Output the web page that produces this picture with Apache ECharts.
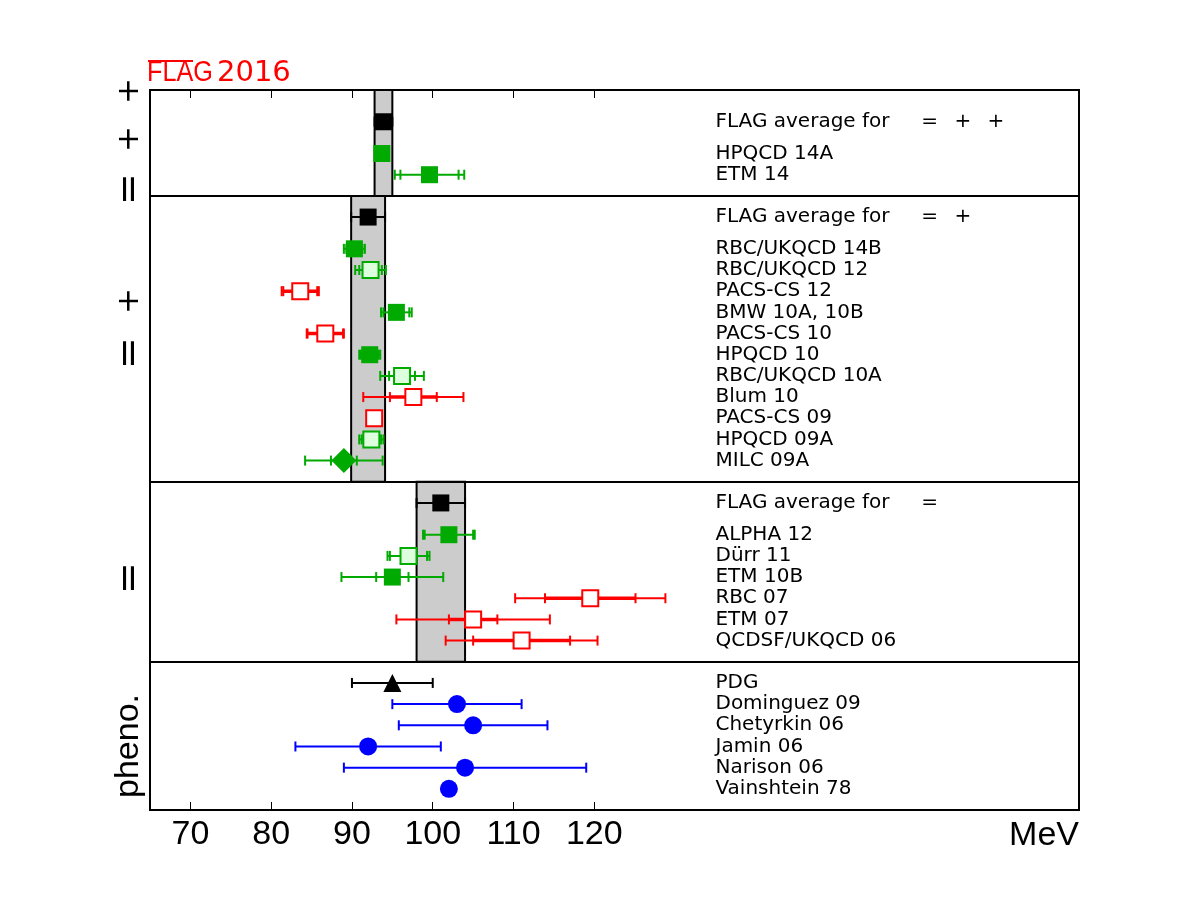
<!DOCTYPE html>
<html>
<head>
<meta charset="utf-8">
<script src="https://cdn.jsdelivr.net/npm/echarts@6/dist/echarts.min.js"></script>
<style>
  html, body { margin: 0; background: #fff; }
  #chart { width: 1200px; height: 900px; }
</style>
</head>
<body>
<div id="chart"></div>
<script>
// rows from top to bottom
const names = [
  'FLAG average for     = \u2002+ \u2002+', 'HPQCD 14A', 'ETM 14',
  'FLAG average for     = \u2002+', 'RBC/UKQCD 14B', 'RBC/UKQCD 12', 'PACS-CS 12', 'BMW 10A, 10B',
  'PACS-CS 10', 'HPQCD 10', 'RBC/UKQCD 10A', 'Blum 10', 'PACS-CS 09', 'HPQCD 09A', 'MILC 09A',
  'FLAG average for     =', 'ALPHA 12', 'Dürr 11', 'ETM 10B', 'RBC 07', 'ETM 07', 'QCDSF/UKQCD 06',
  'PDG', 'Dominguez 09', 'Chetyrkin 06', 'Jamin 06', 'Narison 06', 'Vainshtein 78'
]
const rows = [32.5, 31, 30, 28, 26.5, 25.5, 24.5, 23.5, 22.5, 21.5, 20.5, 19.5, 18.5, 17.5, 16.5,
  14.5, 13, 12, 11, 10, 9, 8, 6, 5, 4, 3, 2, 1]
const values = [93.9, 93.7, 99.6, 92.0, 90.3, 92.3, 83.6, 95.5, 86.7, 92.2, 96.2, 97.6, 92.75, 92.4, 89.0,
  101, 102, 97.0, 95, 119.5, 105, 111, 95, 103, 105, 92, 104, 102]
const statErr = [0, 0, 3.6, 0, 1.0, 1.4, 2.1, 1.6, 2.2, 1.1, 1.6, 2.9, 0, 1.2, 1.6,
  0, 3.0, 2.3, 2.0, 5.6, 3.0, 6.0, 0, 0, 0, 0, 0, 0]
const totErr = [1.1, 0.8, 4.3, 2.1, 1.3, 1.9, 2.3, 1.9, 2.3, 1.3, 2.7, 6.2, 0.58, 1.5, 4.8,
  3.0, 3.2, 2.6, 6.3, 9.3, 9.5, 9.4, 5, 8, 9.2, 9, 15, 0]
const rating = ['avg', 'pass', 'pass', 'avg', 'pass', 'light', 'fail', 'pass', 'fail', 'pass', 'light',
  'fail', 'fail', 'light', 'alt', 'avg', 'pass', 'light', 'pass', 'fail', 'fail', 'fail',
  'pdg', 'pheno', 'pheno', 'pheno', 'pheno', 'pheno']

// FLAG average bands per panel
const bandCenter = [93.9, 92.0, 101]
const bandErr = [1.1, 2.1, 3.0]
const bandBottom = [29, 15.5, 7]
const bandTop = [34, 29, 15.5]
const panelBreaks = [7, 15.5, 29]
const xTicks = [70, 80, 90, 100, 110, 120]

const GREEN = '#00aa00'
const barColor = { avg: '#000', pass: GREEN, light: GREEN, alt: GREEN, fail: '#ff0000', pdg: '#000', pheno: '#0000ff' }
const markerStyle = {
  avg: { symbol: 'rect', symbolSize: 17, itemStyle: { color: '#000' } },
  pass: { symbol: 'rect', symbolSize: 17, itemStyle: { color: GREEN } },
  light: { symbol: 'rect', symbolSize: 16, itemStyle: { color: '#ddffdd', borderColor: GREEN, borderWidth: 2 } },
  alt: { symbol: 'diamond', symbolSize: 25, itemStyle: { color: GREEN } },
  fail: { symbol: 'rect', symbolSize: 16, itemStyle: { color: '#fff', borderColor: '#ff0000', borderWidth: 2 } },
  pdg: { symbol: 'triangle', symbolSize: 18, itemStyle: { color: '#000' } },
  pheno: { symbol: 'circle', symbolSize: 18, itemStyle: { color: '#0000ff' } }
}

const LABEL_X = 135

const chart = echarts.init(document.getElementById('chart'))

const errorData = names.map((n, i) => ({
  value: [values[i], rows[i], statErr[i], totErr[i]],
  color: barColor[rating[i]],
  thick: rating[i] === 'fail'
}))

const bandSeries = {
  type: 'custom',
  z: 1,
  silent: true,
  data: bandCenter.map((c, i) => [c, bandErr[i], bandBottom[i], bandTop[i]]),
  renderItem: (params, api) => {
    const c = api.value(0), e = api.value(1)
    const p0 = api.coord([c - e, api.value(3)])
    const p1 = api.coord([c + e, api.value(2)])
    return {
      type: 'rect',
      shape: { x: p0[0], y: p0[1], width: p1[0] - p0[0], height: p1[1] - p0[1] },
      style: { fill: '#cccccc', stroke: '#000', lineWidth: 2 }
    }
  },
  markLine: {
    silent: true,
    symbol: 'none',
    label: { show: false },
    lineStyle: { color: '#000', width: 2, type: 'solid' },
    data: panelBreaks.map(y => ({ yAxis: y }))
  }
}

const errorSeries = {
  type: 'custom',
  z: 2,
  silent: true,
  data: errorData.map(d => d.value),
  renderItem: (params, api) => {
    const d = errorData[params.dataIndex]
    const [v, y, st, tot] = d.value
    if (!tot) return { type: 'group', children: [] }
    const lw = 2
    const [x0, yc] = api.coord([v - tot, y])
    const x1 = api.coord([v + tot, y])[0]
    const h = 5
    const line = (a, b, c, e, w) => ({
      type: 'line', shape: { x1: a, y1: b, x2: c, y2: e },
      style: { stroke: d.color, lineWidth: w || lw }
    })
    const children = [line(x0, yc, x1, yc), line(x0, yc - h, x0, yc + h), line(x1, yc - h, x1, yc + h)]
    if (st) {
      const s0 = api.coord([v - st, y])[0]
      const s1 = api.coord([v + st, y])[0]
      children.push(line(s0, yc - h, s0, yc + h), line(s1, yc - h, s1, yc + h))
      if (d.thick) children.push(line(s0, yc, s1, yc, 3.5))
    }
    return { type: 'group', children }
  }
}

const markerSeries = Object.keys(markerStyle).map(key => ({
  type: 'scatter',
  z: 3,
  silent: true,
  symbol: markerStyle[key].symbol,
  symbolSize: markerStyle[key].symbolSize,
  itemStyle: Object.assign({ opacity: 1 }, markerStyle[key].itemStyle),
  data: names.map((n, i) => i).filter(i => rating[i] === key).map(i => [values[i], rows[i]])
}))

const labelSeries = {
  type: 'custom',
  z: 4,
  silent: true,
  data: names.map((n, i) => [LABEL_X, rows[i]]),
  renderItem: (params, api) => {
    const p = api.coord([api.value(0), api.value(1)])
    return {
      type: 'text',
      x: p[0], y: p[1],
      style: {
        text: names[params.dataIndex],
        fill: '#000',
        font: '20px "DejaVu Sans"',
        align: 'left',
        verticalAlign: 'middle'
      }
    }
  }
}

const axisBase = {
  type: 'value',
  min: 65,
  max: 180,
  axisLine: { show: false },
  splitLine: { show: false },
  axisTick: { show: true, inside: true, length: 8, customValues: xTicks, lineStyle: { color: '#000', width: 1 } }
}

// side labels whose symbols survived in the original (N_f text lost)
const sideMarks = [
  { t: '+', y: 91 }, { t: '+', y: 139 }, { t: '=', y: 189 },
  { t: '+', y: 301 }, { t: '=', y: 353 }, { t: '=', y: 578 }
]

const option = {
  animation: false,
  backgroundColor: '#fff',
  grid: { left: 150, right: 121, top: 90, bottom: 90, show: true, borderColor: '#000', borderWidth: 2, backgroundColor: 'transparent' },
  xAxis: [
    Object.assign({}, axisBase, {
      position: 'bottom',
      axisLabel: { customValues: xTicks, color: '#000', fontSize: 34, fontFamily: 'Liberation Sans', margin: 8 }
    }),
    Object.assign({}, axisBase, { position: 'top', axisLabel: { show: false } })
  ],
  yAxis: { type: 'value', min: 0, max: 34, show: false },
  series: [bandSeries, errorSeries, ...markerSeries, labelSeries],
  graphic: [
    { type: 'text', x: 147, y: 73, scaleX: 0.84, style: { text: 'FLAG', fill: '#ff0000', font: '30px "Liberation Sans"', verticalAlign: 'middle' } },
    { type: 'text', x: 217, y: 73, style: { text: '2016', fill: '#ff0000', font: '29px "DejaVu Sans"', verticalAlign: 'middle' } },
    { type: 'line', shape: { x1: 148, y1: 61, x2: 193, y2: 61 }, style: { stroke: '#ff0000', lineWidth: 2 } },
    ...sideMarks.map(m => ({
      type: 'text', x: 130, y: m.y, rotation: Math.PI / 2,
      style: { text: m.t, fill: '#000', font: (m.t === '=' ? 38 : 31) + 'px "DejaVu Sans"', align: 'center', verticalAlign: 'middle' }
    })),
    { type: 'text', x: 129, y: 746, rotation: Math.PI / 2,
      style: { text: 'pheno.', fill: '#000', font: '34px "Liberation Sans"', align: 'center', verticalAlign: 'middle' } },
    { type: 'text', x: 1079, y: 836,
      style: { text: 'MeV', fill: '#000', font: '34px "Liberation Sans"', align: 'right', verticalAlign: 'middle' } }
  ]
}

chart.setOption(option)
</script>
</body>
</html>
